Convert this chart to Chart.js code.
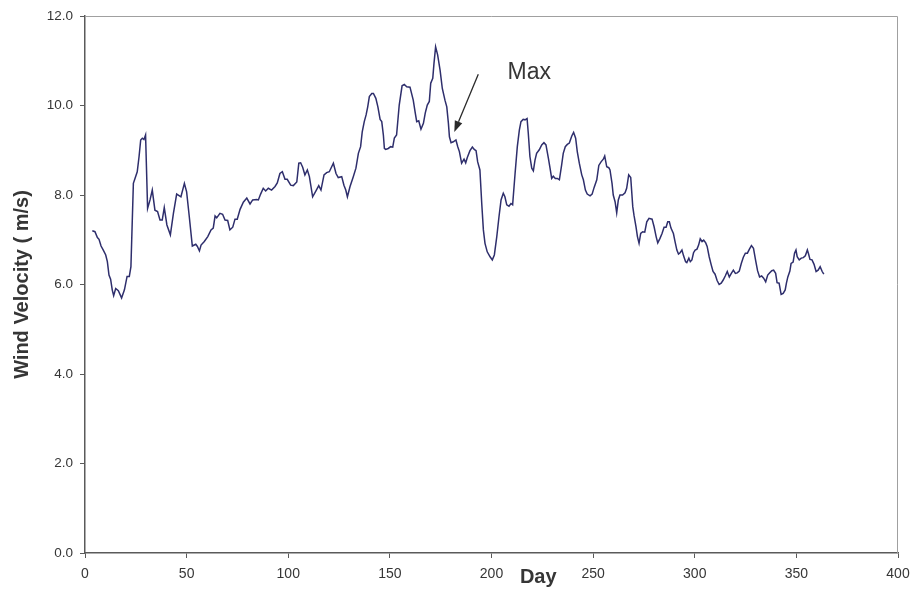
<!DOCTYPE html>
<html>
<head>
<meta charset="utf-8">
<script src="https://cdn.jsdelivr.net/npm/chart.js@4.4.1/dist/chart.umd.min.js"></script>
<style>
  html, body { margin: 0; padding: 0; background: #ffffff; }
  #wrap { width: 913px; height: 590px; }
</style>
</head>
<body>
<div id="wrap"><canvas id="chart" width="913" height="590"></canvas></div>
<script>
// Daily wind velocity over the year
const days = [
  3.6, 4.9, 6.1, 6.9, 7.9, 9.0, 10.2, 11.0, 11.8, 12.6, 13.4, 14.1, 15.1, 16.4, 18.0, 19.4, 20.7, 21.8, 22.6, 23.8,
  24.6, 25.7, 26.6, 27.4, 28.2, 29.0, 29.8, 30.8, 32.0, 33.1, 34.4, 35.7, 36.9, 38.0, 39.0, 40.3, 42.0, 43.5, 45.1, 47.2,
  48.9, 50.0, 51.3, 52.8, 54.5, 55.3, 56.3, 57.1, 58.7, 60.4, 62.0, 63.1, 64.0, 64.8, 66.4, 67.7, 68.9, 70.2, 71.3, 72.7,
  73.8, 74.9, 76.3, 77.9, 79.6, 81.2, 82.5, 84.5, 85.3, 86.4, 87.7, 88.9, 90.2, 91.8, 93.5, 94.6, 95.9, 97.1, 98.4, 99.5,
  101.2, 102.5, 104.2, 105.2, 106.1, 107.1, 108.2, 109.4, 110.4, 112.0, 113.7, 115.0, 116.1, 117.6, 118.9, 120.2, 122.2, 123.5, 124.6, 126.3,
  127.4, 128.3, 129.1, 130.4, 132.0, 133.3, 134.5, 135.6, 136.4, 137.4, 138.3, 139.1, 139.9, 141.1, 141.9, 143.1, 144.1, 145.2, 146.0, 146.8,
  147.3, 147.9, 149.2, 150.4, 151.4, 152.2, 153.3, 154.6, 156.0, 157.1, 158.3, 159.9, 161.5, 162.5, 163.2, 164.2, 165.3, 166.5, 167.4, 168.4,
  169.4, 170.1, 171.1, 171.7, 172.5, 173.5, 174.7, 175.8, 177.1, 178.0, 178.8, 179.3, 180.1, 181.2, 182.5, 183.4, 184.2, 185.3, 186.5, 187.3,
  188.1, 189.4, 190.6, 191.5, 192.4, 193.2, 194.3, 195.2, 196.0, 196.8, 197.9, 199.3, 200.4, 201.4, 202.6, 203.7, 204.7, 205.8, 206.6, 207.5,
  208.6, 209.6, 210.4, 211.6, 212.7, 213.7, 214.5, 215.6, 216.5, 217.5, 218.1, 218.9, 219.8, 220.6, 221.4, 222.2, 223.5, 224.7, 225.8, 226.8,
  228.0, 228.8, 229.6, 230.4, 231.4, 232.4, 233.4, 234.5, 235.3, 236.3, 237.3, 238.3, 239.5, 240.4, 241.4, 242.2, 243.2, 244.4, 245.2, 246.2,
  247.1, 248.5, 249.5, 250.5, 251.8, 252.8, 253.9, 255.0, 255.7, 256.7, 257.7, 258.3, 259.3, 259.9, 260.8, 261.6, 262.4, 263.2, 264.5, 265.7,
  266.5, 267.5, 268.5, 269.5, 270.1, 271.1, 271.8, 272.6, 273.4, 274.4, 275.4, 276.4, 277.5, 279.0, 280.0, 281.0, 281.8, 282.9, 283.9, 284.9,
  285.9, 286.7, 287.5, 288.3, 289.5, 290.3, 291.2, 292.0, 292.8, 293.7, 294.5, 295.5, 296.1, 297.1, 297.8, 298.6, 299.4, 300.2, 301.1, 301.9,
  302.7, 303.6, 304.4, 305.4, 306.1, 307.1, 308.1, 309.0, 310.0, 311.0, 312.0, 313.0, 314.0, 315.0, 316.0, 317.0, 318.0, 319.0, 320.0, 320.9,
  321.9, 322.9, 323.9, 324.9, 325.9, 326.9, 327.9, 328.9, 329.9, 330.9, 331.9, 332.9, 333.9, 334.9, 335.9, 336.9, 337.9, 338.8, 339.8, 340.5,
  341.5, 342.5, 343.5, 344.5, 345.1, 345.8, 346.8, 347.4, 348.4, 349.1, 349.8, 350.4, 351.4, 352.4, 353.4, 354.4, 355.4, 356.0, 356.7, 357.7,
  358.7, 359.7, 360.7, 361.7, 362.7, 363.5
];
const windSpeed = [
  7.20, 7.18, 7.05, 7.01, 6.86, 6.77, 6.66, 6.51, 6.21, 6.12, 5.88, 5.75, 5.91, 5.86, 5.70, 5.88, 6.18, 6.18, 6.40, 8.26,
  8.37, 8.52, 8.86, 9.23, 9.27, 9.24, 9.34, 7.70, 7.89, 8.11, 7.66, 7.63, 7.44, 7.44, 7.72, 7.33, 7.11, 7.59, 8.02, 7.96,
  8.26, 8.07, 7.52, 6.86, 6.90, 6.85, 6.75, 6.88, 6.96, 7.07, 7.22, 7.26, 7.53, 7.49, 7.59, 7.57, 7.44, 7.43, 7.22, 7.28,
  7.46, 7.46, 7.68, 7.84, 7.93, 7.80, 7.89, 7.90, 7.89, 8.02, 8.15, 8.09, 8.15, 8.11, 8.19, 8.27, 8.48, 8.52, 8.35, 8.35,
  8.22, 8.21, 8.29, 8.71, 8.72, 8.62, 8.45, 8.56, 8.41, 7.96, 8.10, 8.21, 8.11, 8.45, 8.50, 8.52, 8.71, 8.48, 8.39, 8.41,
  8.22, 8.11, 7.96, 8.19, 8.41, 8.60, 8.93, 9.08, 9.41, 9.64, 9.79, 9.97, 10.20, 10.27, 10.27, 10.16, 9.97, 9.69, 9.64, 9.34,
  9.04, 9.02, 9.04, 9.08, 9.07, 9.27, 9.34, 10.01, 10.44, 10.47, 10.42, 10.41, 10.12, 9.83, 9.64, 9.66, 9.47, 9.60, 9.83, 10.01,
  10.09, 10.50, 10.61, 10.94, 11.31, 11.13, 10.79, 10.38, 10.12, 9.97, 9.60, 9.30, 9.17, 9.19, 9.23, 9.08, 8.97, 8.71, 8.80, 8.72,
  8.84, 8.99, 9.07, 9.02, 8.99, 8.74, 8.56, 7.81, 7.22, 6.92, 6.73, 6.62, 6.55, 6.66, 7.07, 7.52, 7.89, 8.04, 7.96, 7.78,
  7.75, 7.81, 7.78, 8.48, 9.08, 9.45, 9.64, 9.69, 9.68, 9.71, 9.38, 8.86, 8.60, 8.54, 8.78, 8.93, 9.01, 9.12, 9.17, 9.12,
  8.82, 8.60, 8.37, 8.42, 8.37, 8.37, 8.34, 8.67, 8.93, 9.08, 9.13, 9.16, 9.32, 9.40, 9.27, 8.97, 8.71, 8.45, 8.34, 8.11,
  8.02, 7.98, 8.02, 8.17, 8.34, 8.66, 8.74, 8.80, 8.87, 8.63, 8.61, 8.56, 8.26, 8.00, 7.85, 7.60, 7.89, 8.00, 8.00, 8.05,
  8.15, 8.45, 8.39, 7.74, 7.55, 7.29, 7.07, 6.92, 7.14, 7.18, 7.17, 7.40, 7.48, 7.46, 7.29, 7.07, 6.93, 7.03, 7.14, 7.28,
  7.28, 7.40, 7.40, 7.26, 7.14, 6.96, 6.77, 6.68, 6.71, 6.77, 6.64, 6.51, 6.49, 6.59, 6.51, 6.55, 6.71, 6.77, 6.79, 6.88,
  7.02, 6.96, 6.99, 6.93, 6.85, 6.62, 6.44, 6.29, 6.23, 6.09, 6.00, 6.03, 6.10, 6.19, 6.29, 6.17, 6.25, 6.32, 6.25, 6.26,
  6.30, 6.47, 6.61, 6.70, 6.70, 6.79, 6.87, 6.81, 6.55, 6.31, 6.17, 6.19, 6.14, 6.06, 6.21, 6.26, 6.31, 6.32, 6.25, 6.04,
  6.03, 5.78, 5.80, 5.88, 6.03, 6.17, 6.30, 6.47, 6.50, 6.70, 6.77, 6.62, 6.55, 6.59, 6.60, 6.64, 6.77, 6.68, 6.56, 6.55,
  6.45, 6.29, 6.32, 6.40, 6.29, 6.23
];

// Axis ticks
const xTicks = [0, 50, 100, 150, 200, 250, 300, 350, 400];
const yTicks = [0, 2, 4, 6, 8, 10, 12];

// "Max" callout: arrow from label towards the curve (data coordinates)
const maxLabel = { text: 'Max', day: 218.6, value: 10.73 };
const maxArrow = { fromDay: 193.5, fromValue: 10.70, toDay: 181.7, toValue: 9.41 };
const xTitle = { text: 'Day', day: 223 };

const FONT = '"Liberation Sans", Arial, Helvetica, sans-serif';
const TEXT = '#363636';
const AXIS = '#5a5a5a';

const points = days.map((d, i) => ({ x: d, y: windSpeed[i] }));

const framePlugin = {
  id: 'frame',
  beforeDatasetsDraw(chart) {
    const { ctx, chartArea: a } = chart;
    ctx.save();
    ctx.strokeStyle = '#a0a0a0';
    ctx.lineWidth = 1;
    ctx.beginPath();
    ctx.moveTo(a.left, a.top + 0.5);
    ctx.lineTo(a.right - 0.5, a.top + 0.5);
    ctx.lineTo(a.right - 0.5, a.bottom);
    ctx.stroke();
    ctx.restore();
  }
};

const calloutPlugin = {
  id: 'callout',
  afterDatasetsDraw(chart) {
    const { ctx } = chart;
    const xs = chart.scales.x, ys = chart.scales.y;
    const x1 = xs.getPixelForValue(maxArrow.fromDay), y1 = ys.getPixelForValue(maxArrow.fromValue);
    const x2 = xs.getPixelForValue(maxArrow.toDay), y2 = ys.getPixelForValue(maxArrow.toValue);
    const ang = Math.atan2(y2 - y1, x2 - x1);
    const headLen = 11, headHalf = 4;
    const bx = x2 - headLen * Math.cos(ang), by = y2 - headLen * Math.sin(ang);
    ctx.save();
    ctx.strokeStyle = '#2a2a2a';
    ctx.fillStyle = '#2a2a2a';
    ctx.lineWidth = 1.3;
    ctx.beginPath();
    ctx.moveTo(x1, y1);
    ctx.lineTo(bx, by);
    ctx.stroke();
    ctx.beginPath();
    ctx.moveTo(x2, y2);
    ctx.lineTo(bx + headHalf * Math.sin(ang), by - headHalf * Math.cos(ang));
    ctx.lineTo(bx - headHalf * Math.sin(ang), by + headHalf * Math.cos(ang));
    ctx.closePath();
    ctx.fill();

    ctx.fillStyle = TEXT;
    ctx.font = '23px ' + FONT;
    ctx.textAlign = 'center';
    ctx.textBaseline = 'middle';
    ctx.fillText(maxLabel.text, xs.getPixelForValue(maxLabel.day), ys.getPixelForValue(maxLabel.value));

    ctx.font = 'bold 20px ' + FONT;
    ctx.textBaseline = 'alphabetic';
    ctx.fillText(xTitle.text, xs.getPixelForValue(xTitle.day), chart.height - 7);
    ctx.restore();
  }
};

new Chart(document.getElementById('chart'), {
  type: 'line',
  data: {
    datasets: [{
      data: points,
      borderColor: '#2e2e6c',
      borderWidth: 1.5,
      pointRadius: 0,
      tension: 0,
      fill: false
    }]
  },
  options: {
    responsive: false,
    animation: false,
    events: [],
    layout: { padding: { left: 0, top: 16, right: 15, bottom: 0 } },
    plugins: { legend: { display: false }, tooltip: { enabled: false } },
    scales: {
      x: {
        type: 'linear',
        min: xTicks[0],
        max: xTicks[xTicks.length - 1],
        afterBuildTicks(scale) { scale.ticks = xTicks.map(v => ({ value: v })); },
        afterFit(scale) {
          scale.height = 37;
          scale.paddingLeft = 0;
          scale.paddingRight = 0;
        },
        border: { display: true, color: AXIS, width: 1.5 },
        grid: { drawOnChartArea: false, drawTicks: true, tickLength: 5, color: AXIS, lineWidth: 1 },
        ticks: {
          padding: 8,
          maxRotation: 0,
          color: TEXT,
          font: { family: FONT, size: 14 },
          callback: v => String(v)
        }
      },
      y: {
        min: yTicks[0],
        max: yTicks[yTicks.length - 1],
        afterBuildTicks(scale) { scale.ticks = yTicks.map(v => ({ value: v })); },
        afterFit(scale) {
          scale.width = 85;
          scale.paddingTop = 0;
          scale.paddingBottom = 0;
        },
        border: { display: true, color: AXIS, width: 1.5 },
        grid: { drawOnChartArea: false, drawTicks: true, tickLength: 5, color: AXIS, lineWidth: 1 },
        ticks: {
          padding: 7,
          color: TEXT,
          font: { family: FONT, size: 13.5 },
          callback: v => Number(v).toFixed(1)
        },
        title: {
          display: true,
          text: 'Wind Velocity ( m/s)',
          color: TEXT,
          font: { family: FONT, size: 20, weight: 'bold' },
          padding: { top: 10, bottom: 0 }
        }
      }
    }
  },
  plugins: [framePlugin, calloutPlugin]
});
</script>
</body>
</html>
